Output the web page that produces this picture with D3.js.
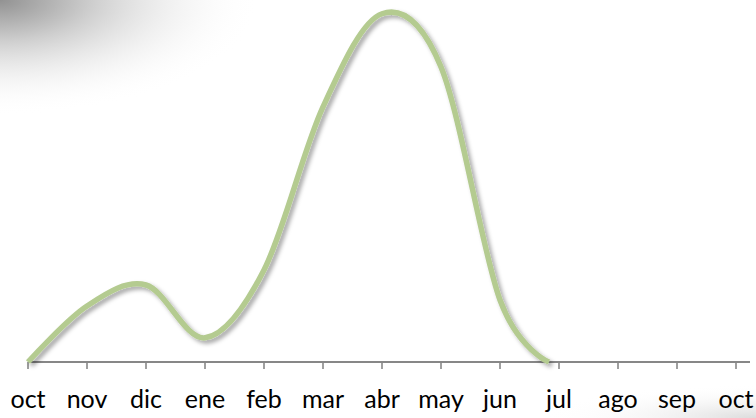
<!DOCTYPE html>
<html><head><meta charset="utf-8">
<script src="https://cdn.jsdelivr.net/npm/d3@7"></script>
<style>html,body{margin:0;padding:0;background:#fff;overflow:hidden}</style>
</head><body>
<script>
const monthLabels = ["oct","nov","dic","ene","feb","mar","abr","may","jun","jul","ago","sep","oct"];
const pointMonth = [0, 1, 2, 3, 4, 5, 6, 7, 8, 8.83];
const pointValue = [0, 16, 22, 6.9, 26.3, 72.9, 99.5, 84.3, 17.7, 0];

const W = 756, H = 418;
const svg = d3.select("body").append("svg").attr("width", W).attr("height", H);
const defs = svg.append("defs");

const g1 = defs.append("radialGradient").attr("id","corner")
  .attr("cx",0).attr("cy",0).attr("r",1).attr("gradientUnits","objectBoundingBox");
g1.append("stop").attr("offset","0%").attr("stop-color","#929292");
g1.append("stop").attr("offset","35%").attr("stop-color","#cdcdcd");
g1.append("stop").attr("offset","100%").attr("stop-color","#ffffff").attr("stop-opacity",0);
svg.append("rect").attr("x",0).attr("y",0).attr("width",260).attr("height",115).attr("fill","url(#corner)");

const g2 = defs.append("radialGradient").attr("id","corner2")
  .attr("cx",1).attr("cy",1).attr("r",1);
g2.append("stop").attr("offset","0%").attr("stop-color","#dcdcdc");
g2.append("stop").attr("offset","100%").attr("stop-color","#ffffff").attr("stop-opacity",0);
svg.append("rect").attr("x",540).attr("y",385).attr("width",216).attr("height",33).attr("fill","url(#corner2)");

const f = defs.append("filter").attr("id","shadow").attr("x","-10%").attr("y","-10%").attr("width","130%").attr("height","130%");
f.append("feDropShadow").attr("dx",3).attr("dy",3).attr("stdDeviation",2.2)
  .attr("flood-color","#000").attr("flood-opacity",0.35);

const x = d3.scaleLinear().domain([0, 12]).range([28, 736]);
const y = d3.scaleLinear().domain([0, 100]).range([362, 12]);

// axis
const axisG = svg.append("g").attr("transform","translate(0,362)");
axisG.append("line").attr("x1",x(0)).attr("x2",750).attr("y1",0).attr("y2",0)
  .attr("stroke","#878787").attr("stroke-width",2);
axisG.selectAll("line.tick").data(monthLabels).join("line").attr("class","tick")
  .attr("x1",(d,i)=>x(i)).attr("x2",(d,i)=>x(i)).attr("y1",0).attr("y2",7)
  .attr("stroke","#878787").attr("stroke-width",1.6);
axisG.selectAll("text").data(monthLabels).join("text")
  .attr("x",(d,i)=>x(i)).attr("y",46).attr("text-anchor","middle")
  .attr("font-family","Lato, 'Open Sans', sans-serif").attr("font-size",25)
  .attr("fill","#000").text(d=>d);

const pts = pointMonth.map((m,i)=>[m, pointValue[i]]);
const line = d3.line().x(d=>x(d[0])).y(d=>y(d[1])).curve(d3.curveCardinal.tension(0));
svg.append("path").datum(pts).attr("d",line).attr("fill","none")
  .attr("stroke","#b4cb90").attr("stroke-width",5.5).attr("stroke-linecap","butt")
  .attr("filter","url(#shadow)");
</script>
</body></html>
